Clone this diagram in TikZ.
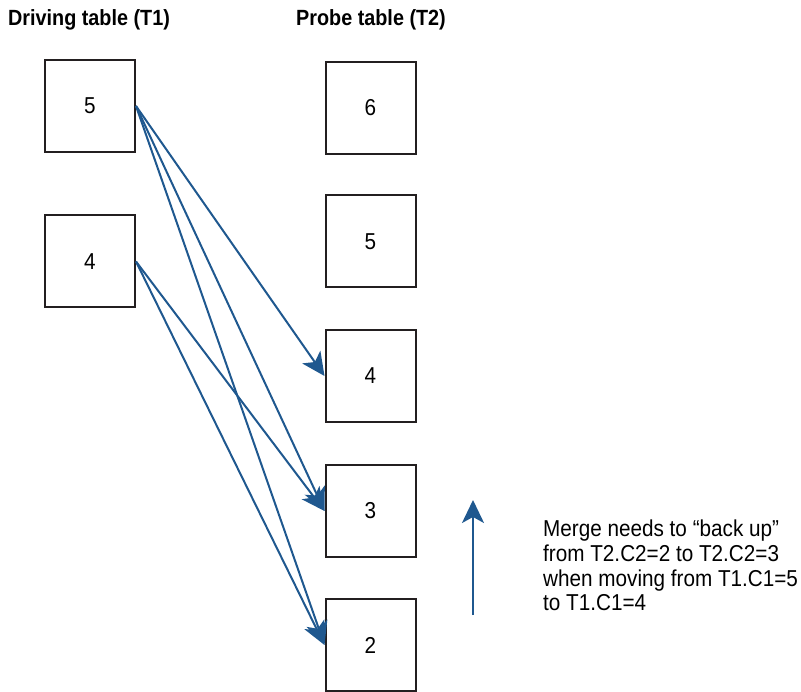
\documentclass[tikz,border=0pt]{standalone}
\usepackage{fontspec}
\setmainfont{Liberation Sans}[FakeStretch=0.9]
\usetikzlibrary{arrows.meta}
\definecolor{boxline}{RGB}{35,31,32}
\definecolor{flow}{RGB}{31,88,143}
\tikzset{
  rowbox/.style={draw=boxline, line width=2pt, minimum width=90pt, minimum height=92pt,
    inner sep=0pt, font=\fontsize{23}{23}\selectfont},
  heading/.style={anchor=west, inner sep=0pt, font=\bfseries\fontsize{22}{22}\selectfont},
  link/.style={draw=flow, line width=2pt,
    -{Stealth[length=23pt, width=22pt, inset=6pt]}},
  note/.style={anchor=north west, inner sep=0pt, align=left,
    font=\fontsize{23}{24.7}\selectfont}
}
\begin{document}
\begin{tikzpicture}[x=1pt, y=-1pt]
  \useasboundingbox (0,0) rectangle (801,692);

  % column headings
  \node[heading] (h1) at (8,20) {Driving table (T1)};
  \node[heading] (h2) at (296,20) {Probe table (T2)};

  % driving table rows
  \node[rowbox] (d5) at (90,106) {5};
  \node[rowbox] (d4) at (90,261.5) {4};

  % probe table rows
  \node[rowbox] (p6) at (370.5,108) {6};
  \node[rowbox] (p5) at (370.5,241.5) {5};
  \node[rowbox] (p4) at (370.5,376) {4};
  \node[rowbox] (p3) at (370.5,511) {3};
  \node[rowbox] (p2) at (370.5,645) {2};

  % merge probes
  \draw[link] (d5.east) -- (p4.west);
  \draw[link] (d5.east) -- (p3.west);
  \draw[link] (d5.east) -- (p2.west);
  \draw[link] (d4.east) -- (p3.west);
  \draw[link] (d4.east) -- (p2.west);

  % back-up direction
  \coordinate (up0) at (473,615);
  \coordinate (up1) at (473,500);
  \draw[link] (up0) -- (up1);

  \node[note] (msg) at (543,520) {Merge needs to “back up”\\from T2.C2=2 to T2.C2=3\\when moving from T1.C1=5\\to T1.C1=4};
\end{tikzpicture}
\end{document}
